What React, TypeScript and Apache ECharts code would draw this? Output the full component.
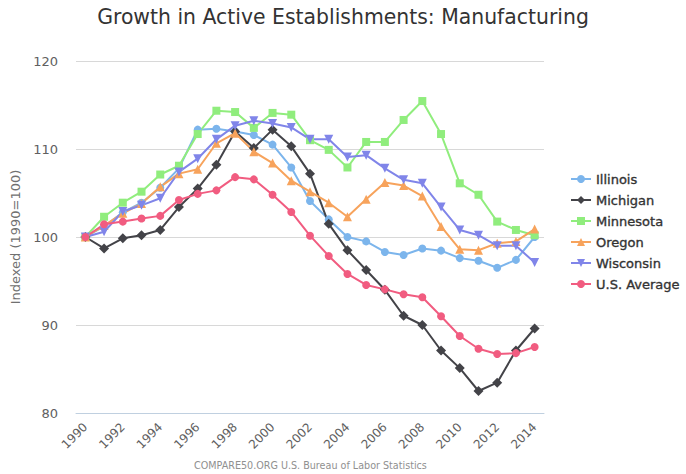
import React, { useEffect, useRef } from "react";
import * as echarts from "echarts";

const years = ["1990","1991","1992","1993","1994","1995","1996","1997","1998","1999","2000","2001","2002","2003","2004","2005","2006","2007","2008","2009","2010","2011","2012","2013","2014"];

const illinois = [100, 101.2, 102.8, 103.9, 105.6, 107.8, 112.2, 112.3, 112.0, 111.6, 110.5, 107.9, 104.1, 102.0, 100.0, 99.5, 98.3, 97.95, 98.7, 98.45, 97.6, 97.3, 96.5, 97.4, 100.0];
const michigan = [100, 98.7, 99.85, 100.2, 100.8, 103.4, 105.5, 108.2, 112.0, 110.1, 112.2, 110.3, 107.2, 101.5, 98.5, 96.25, 94.0, 91.05, 90.0, 87.1, 85.1, 82.5, 83.45, 87.1, 89.6];
const minnesota = [100, 102.3, 103.9, 105.15, 107.1, 108.1, 111.7, 114.35, 114.2, 112.4, 114.1, 113.9, 111.0, 109.9, 107.9, 110.8, 110.8, 113.3, 115.45, 111.7, 106.1, 104.8, 101.75, 100.8, 100.2];
const oregon = [100, 101.3, 102.7, 103.8, 105.7, 107.2, 107.7, 110.65, 111.8, 109.7, 108.4, 106.4, 105.15, 103.9, 102.3, 104.3, 106.2, 105.85, 104.65, 101.2, 98.6, 98.5, 99.3, 99.5, 100.9];
const wisconsin = [100, 100.6, 102.9, 103.6, 104.4, 107.4, 108.9, 111.1, 112.65, 113.2, 112.9, 112.45, 111.1, 111.1, 109.1, 109.3, 107.8, 106.5, 106.1, 103.4, 100.8, 100.2, 99.0, 99.0, 97.1];
const usAverage = [100, 101.45, 101.75, 102.1, 102.4, 104.2, 104.9, 105.3, 106.8, 106.55, 104.8, 102.85, 100.15, 97.85, 95.8, 94.55, 94.05, 93.5, 93.15, 91.0, 88.75, 87.3, 86.7, 86.8, 87.5];

const seriesDefs = [
  { name: "Illinois", data: illinois, color: "#7cb5ec", symbol: "circle", size: 8, rotate: 0 },
  { name: "Michigan", data: michigan, color: "#434348", symbol: "diamond", size: 10, rotate: 0 },
  { name: "Minnesota", data: minnesota, color: "#90ed7d", symbol: "rect", size: 8, rotate: 0 },
  { name: "Oregon", data: oregon, color: "#f7a35c", symbol: "triangle", size: 9, rotate: 0 },
  { name: "Wisconsin", data: wisconsin, color: "#8085e9", symbol: "triangle", size: 9, rotate: 180 },
  { name: "U.S. Average", data: usAverage, color: "#f15c80", symbol: "circle", size: 8, rotate: 0 },
];

const FONT = "DejaVu Sans";

export default function App() {
  const ref = useRef<HTMLDivElement>(null);
  useEffect(() => {
    if (!ref.current) return;
    const chart = echarts.init(ref.current, null, { renderer: "svg" });
    chart.setOption({
      animation: false,
      backgroundColor: "#ffffff",
      title: {
        text: "Growth in Active Establishments: Manufacturing",
        left: "center",
        top: 7,
        padding: 0,
        textStyle: { fontFamily: FONT, fontSize: 20.4, fontWeight: "normal", color: "#333333" },
      },
      legend: {
        orient: "vertical",
        left: 565,
        top: 167,
        itemWidth: 20,
        itemHeight: 10,
        itemGap: 7,
        textStyle: {
          fontFamily: FONT,
          fontSize: 13,
          fontWeight: "normal",
          color: "#333333",
          textBorderColor: "#333333",
          textBorderWidth: 0.35,
          lineHeight: 14,
        },
        data: seriesDefs.map((s) => s.name),
      },
      graphic: [
        {
          type: "text",
          left: 194,
          top: 460,
          style: {
            text: "COMPARE50.ORG U.S. Bureau of Labor Statistics",
            font: `9.6px "${FONT}"`,
            fill: "#909090",
          },
        },
      ],
      grid: { left: 76, right: 142, top: 61, bottom: 61 },
      xAxis: {
        type: "category",
        data: years,
        boundaryGap: true,
        axisLine: { lineStyle: { color: "#C0D0E0", width: 1 } },
        axisTick: { alignWithLabel: true, interval: 1, length: 8, lineStyle: { color: "#C0D0E0" } },
        axisLabel: { interval: 1, rotate: 45, margin: 12, fontFamily: FONT, fontSize: 12, color: "#606060" },
        splitLine: { show: false },
      },
      yAxis: {
        type: "value",
        min: 80,
        max: 120,
        interval: 10,
        name: "Indexed (1990=100)",
        nameLocation: "middle",
        nameGap: 52,
        nameTextStyle: { fontFamily: FONT, fontSize: 13, color: "#707070" },
        axisLine: { show: false },
        axisTick: { show: false },
        axisLabel: { margin: 18, fontFamily: FONT, fontSize: 13, color: "#606060" },
        splitLine: { lineStyle: { color: "#D8D8D8", width: 1 } },
      },
      series: seriesDefs.map((s) => ({
        name: s.name,
        type: "line",
        data: s.data,
        symbol: s.symbol,
        symbolSize: s.size,
        symbolRotate: s.rotate,
        showAllSymbol: true,
        lineStyle: { color: s.color, width: 2 },
        itemStyle: { color: s.color },
      })),
    });
    return () => chart.dispose();
  }, []);
  return (
    <div
      ref={ref}
      style={{ position: "fixed", left: 0, top: 0, width: 686, height: 474 }}
    />
  );
}
